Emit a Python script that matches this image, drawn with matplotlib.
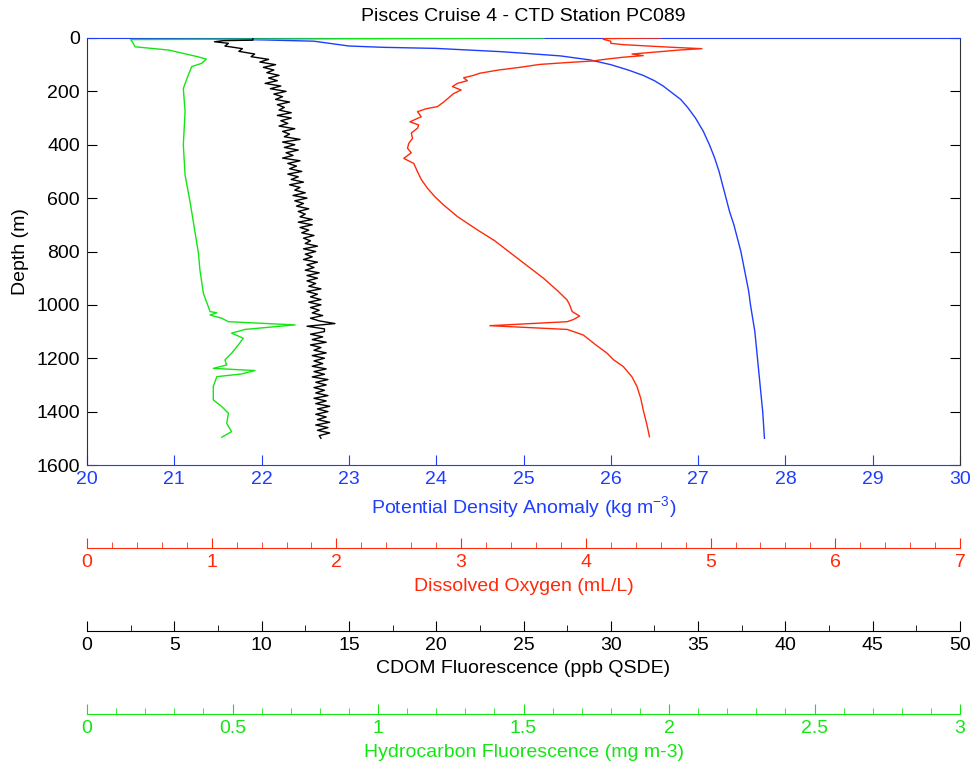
import numpy as np
import matplotlib
matplotlib.use("Agg")
import matplotlib.pyplot as plt

plt.rcParams["font.family"] = ["Liberation Sans", "DejaVu Sans"]
plt.rcParams["mathtext.fontset"] = "custom"
plt.rcParams["mathtext.rm"] = "Liberation Sans"
plt.rcParams["mathtext.default"] = "regular"

BLUE = "#1f3dff"
RED = "#ff2a0a"
GREEN = "#14e614"

# Potential density anomaly (kg m-3) vs depth (m)
dens_depth = [0, 2, 7, 12, 30, 35, 39, 51, 57, 67, 82, 100, 120, 140, 160, 180, 200,
              230, 260, 300, 350, 400, 450, 500, 550, 600, 650, 700, 750, 800, 850, 900,
              950, 1000, 1100, 1200, 1300, 1400, 1500]
dens_val = [20.0, 20.8, 22.0, 22.6, 23.0, 23.4, 24.0, 24.73, 25.0, 25.42, 25.76, 26.0,
            26.2, 26.37, 26.5, 26.6, 26.68, 26.8, 26.88, 26.97, 27.06, 27.13, 27.19,
            27.24, 27.28, 27.32, 27.36, 27.41, 27.45, 27.49, 27.52, 27.55, 27.58, 27.60,
            27.65, 27.68, 27.71, 27.74, 27.76]

# Dissolved oxygen (mL/L)
o2_depth = [0, 2, 5, 12, 20, 25, 35, 40, 45, 55, 60, 66, 72, 80, 86, 92, 99, 110, 120,
            132, 140, 149, 160, 170, 182, 195, 208, 220, 240, 257, 265, 276, 295, 314,
            326, 338, 356, 376, 395, 413, 430, 451, 470, 501, 530, 563, 595, 626, 669,
            719, 760, 807, 850, 900, 950, 982, 1000, 1025, 1042, 1055, 1063, 1078, 1092,
            1113, 1150, 1181, 1205, 1231, 1270, 1306, 1350, 1394, 1450, 1494]
o2_val = [4.6, 4.15, 4.14, 4.2, 4.2, 4.3, 4.7, 4.93, 4.75, 4.5, 4.37, 4.46, 4.3, 4.15,
          4.06, 3.85, 3.63, 3.47, 3.3, 3.15, 3.1, 3.02, 3.05, 2.97, 2.93, 3.0, 2.94,
          2.91, 2.86, 2.81, 2.72, 2.65, 2.68, 2.59, 2.66, 2.65, 2.6, 2.61, 2.58, 2.57,
          2.6, 2.54, 2.62, 2.65, 2.68, 2.73, 2.79, 2.86, 2.97, 3.13, 3.27, 3.40, 3.52,
          3.66, 3.78, 3.85, 3.87, 3.89, 3.95, 3.9, 3.85, 3.23, 3.85, 3.98, 4.08, 4.17,
          4.22, 4.30, 4.37, 4.41, 4.44, 4.46, 4.49, 4.51]

# CDOM fluorescence (ppb QSDE)
cdom_depth = [0, 8, 10, 14,
              20, 30, 40, 50, 60, 70, 80, 90,
              100, 110, 120, 130, 140, 150, 160, 170, 180, 190,
              200, 210, 220, 230, 240, 250, 260, 270, 280, 290,
              300, 310, 320, 330, 340, 350, 360, 370, 380, 390,
              400, 410, 420, 430, 440, 450, 460, 470, 480, 490,
              500, 510, 520, 530, 540, 550, 560, 570, 580, 590,
              600, 610, 620, 630, 640, 650, 660, 670, 680, 690,
              700, 710, 720, 730, 740, 750, 760, 770, 780, 790,
              800, 810, 820, 830, 840, 850, 860, 870, 880, 890,
              900, 910, 920, 930, 940, 950, 960, 970, 980, 990,
              1000, 1010, 1020, 1030, 1040, 1050, 1060, 1070, 1080, 1090,
              1100, 1110, 1120, 1130, 1140, 1150, 1160, 1170, 1180, 1190,
              1200, 1210, 1220, 1230, 1240, 1250, 1260, 1270, 1280, 1290,
              1300, 1310, 1320, 1330, 1340, 1350, 1360, 1370, 1380, 1390,
              1400, 1410, 1420, 1430, 1440, 1450, 1460, 1470, 1480, 1490,
              1500]
cdom_val = [9.5, 9.5, 7.8, 7.3,
            8.1, 7.9, 8.9, 8.7, 9.6, 9.4, 10.4, 9.9,
            10.8, 10.1, 10.7, 10.3, 11.0, 10.4, 10.9, 10.2, 11.1, 10.5,
            11.4, 10.7, 11.2, 10.8, 11.6, 10.9, 11.3, 11.0, 11.7, 10.9,
            11.7, 11.1, 11.5, 11.0, 11.9, 11.2, 11.6, 11.3, 12.2, 11.2,
            11.9, 11.3, 12.1, 11.4, 11.8, 11.2, 12.2, 11.5, 12.0, 11.6,
            12.3, 11.5, 12.1, 11.7, 12.4, 11.6, 12.2, 11.9, 12.5, 11.8,
            12.6, 11.9, 12.4, 12.0, 12.7, 12.1, 12.5, 12.2, 12.9, 12.1,
            12.9, 12.2, 12.7, 12.3, 13.0, 12.4, 12.8, 12.5, 13.2, 12.4,
            13.1, 12.5, 12.9, 12.4, 13.2, 12.6, 13.0, 12.5, 13.3, 12.6,
            13.2, 12.6, 13.1, 12.7, 13.4, 12.6, 13.2, 12.8, 13.4, 12.7,
            13.4, 12.8, 13.3, 12.9, 13.5, 12.8, 13.3, 14.2, 12.6, 13.6,
            13.6, 12.8, 13.5, 12.9, 13.7, 12.8, 13.4, 13.0, 13.7, 12.9,
            13.6, 13.0, 13.5, 12.9, 13.7, 13.0, 13.6, 12.9, 13.8, 13.1,
            13.7, 13.0, 13.6, 13.1, 13.8, 13.0, 13.7, 13.1, 13.9, 13.2,
            13.8, 13.1, 13.7, 13.2, 13.9, 13.1, 13.8, 13.2, 13.9, 13.3,
            13.4]

# Hydrocarbon fluorescence (mg m-3)
hc_depth = [0, 6, 20, 33, 45, 70, 79, 95, 107, 139, 189, 276, 401, 513, 613, 726, 807,
            869, 957, 1025, 1030, 1038, 1050, 1063, 1075, 1092, 1106, 1125, 1150, 1181,
            1206, 1225, 1238, 1246, 1259, 1269, 1306, 1356, 1381, 1406, 1444, 1475, 1496]
hc_val = [1.57, 0.15, 0.159, 0.165, 0.28, 0.38, 0.41, 0.394, 0.36, 0.348, 0.331, 0.337,
          0.331, 0.337, 0.354, 0.371, 0.383, 0.388, 0.40, 0.423, 0.446, 0.423, 0.463,
          0.486, 0.715, 0.543, 0.497, 0.537, 0.52, 0.497, 0.474, 0.48, 0.434, 0.577,
          0.531, 0.446, 0.434, 0.434, 0.463, 0.486, 0.48, 0.497, 0.463]

FS = 14

fig = plt.figure(figsize=(9.77, 7.66), dpi=100)
ax = fig.add_axes([87 / 977, 1 - 465 / 766, 873 / 977, 427 / 766])

ax.plot(dens_val, dens_depth, color=BLUE, lw=1)
ax.set_xlim(20, 30)
ax.set_ylim(1600, 0)
ax.set_xticks(range(20, 31))
ax.set_yticks(range(0, 1601, 200))
ax.tick_params(axis="x", direction="in", top=True, bottom=True, colors=BLUE,
               length=7, labelsize=FS, pad=4)
ax.tick_params(axis="y", direction="in", left=True, right=True, colors="k",
               length=7, labelsize=FS, pad=5)
for s in ["top", "bottom"]:
    ax.spines[s].set_color(BLUE)
for s in ["left", "right"]:
    ax.spines[s].set_color("#333333")
ax.set_xlabel("Potential Density Anomaly (kg m$^{-3}$)", color=BLUE, fontsize=FS, labelpad=5)
ax.set_ylabel("Depth (m)", fontsize=FS, labelpad=5)
ax.set_title("Pisces Cruise 4 - CTD Station PC089", fontsize=FS, pad=12)


def extra_axis(lim, major, minor, color, label, offset):
    a = ax.twiny()
    a.set_xlim(*lim)
    a.patch.set_visible(False)
    for s in ["top", "left", "right"]:
        a.spines[s].set_visible(False)
    a.spines["bottom"].set_visible(True)
    a.spines["bottom"].set_position(("outward", offset))
    a.spines["bottom"].set_color(color)
    a.xaxis.set_ticks_position("bottom")
    a.xaxis.set_label_position("bottom")
    a.set_xticks(major)
    a.set_xticks(minor, minor=True)
    a.tick_params(axis="x", which="major", direction="in", length=7, colors=color,
                  labelsize=FS, pad=4)
    a.tick_params(axis="x", which="minor", direction="in", length=4, colors=color)
    a.set_xlabel(label, color=color, fontsize=FS, labelpad=5)
    return a


ax_hc = extra_axis((0, 3), [0, 0.5, 1, 1.5, 2, 2.5, 3],
                   [i / 10 for i in range(31)], GREEN,
                   "Hydrocarbon Fluorescence (mg m-3)", 179.3)
ax_hc.set_xticklabels(["0", "0.5", "1", "1.5", "2", "2.5", "3"])
ax_hc.plot(hc_val, hc_depth, color=GREEN, lw=1)

ax_cdom = extra_axis((0, 50), list(range(0, 51, 5)),
                     [i * 2.5 for i in range(21)], "k",
                     "CDOM Fluorescence (ppb QSDE)", 119.5)
ax_cdom.plot(cdom_val, cdom_depth, color="k", lw=1)

ax_o2 = extra_axis((0, 7), list(range(0, 8)),
                   [i * 0.2 for i in range(36)], RED,
                   "Dissolved Oxygen (mL/L)", 59.8)
ax_o2.plot(o2_val, o2_depth, color=RED, lw=1)

for a in (ax_hc, ax_cdom, ax_o2):
    a.set_ylim(1600, 0)

fig.savefig("out.png", dpi=100)
